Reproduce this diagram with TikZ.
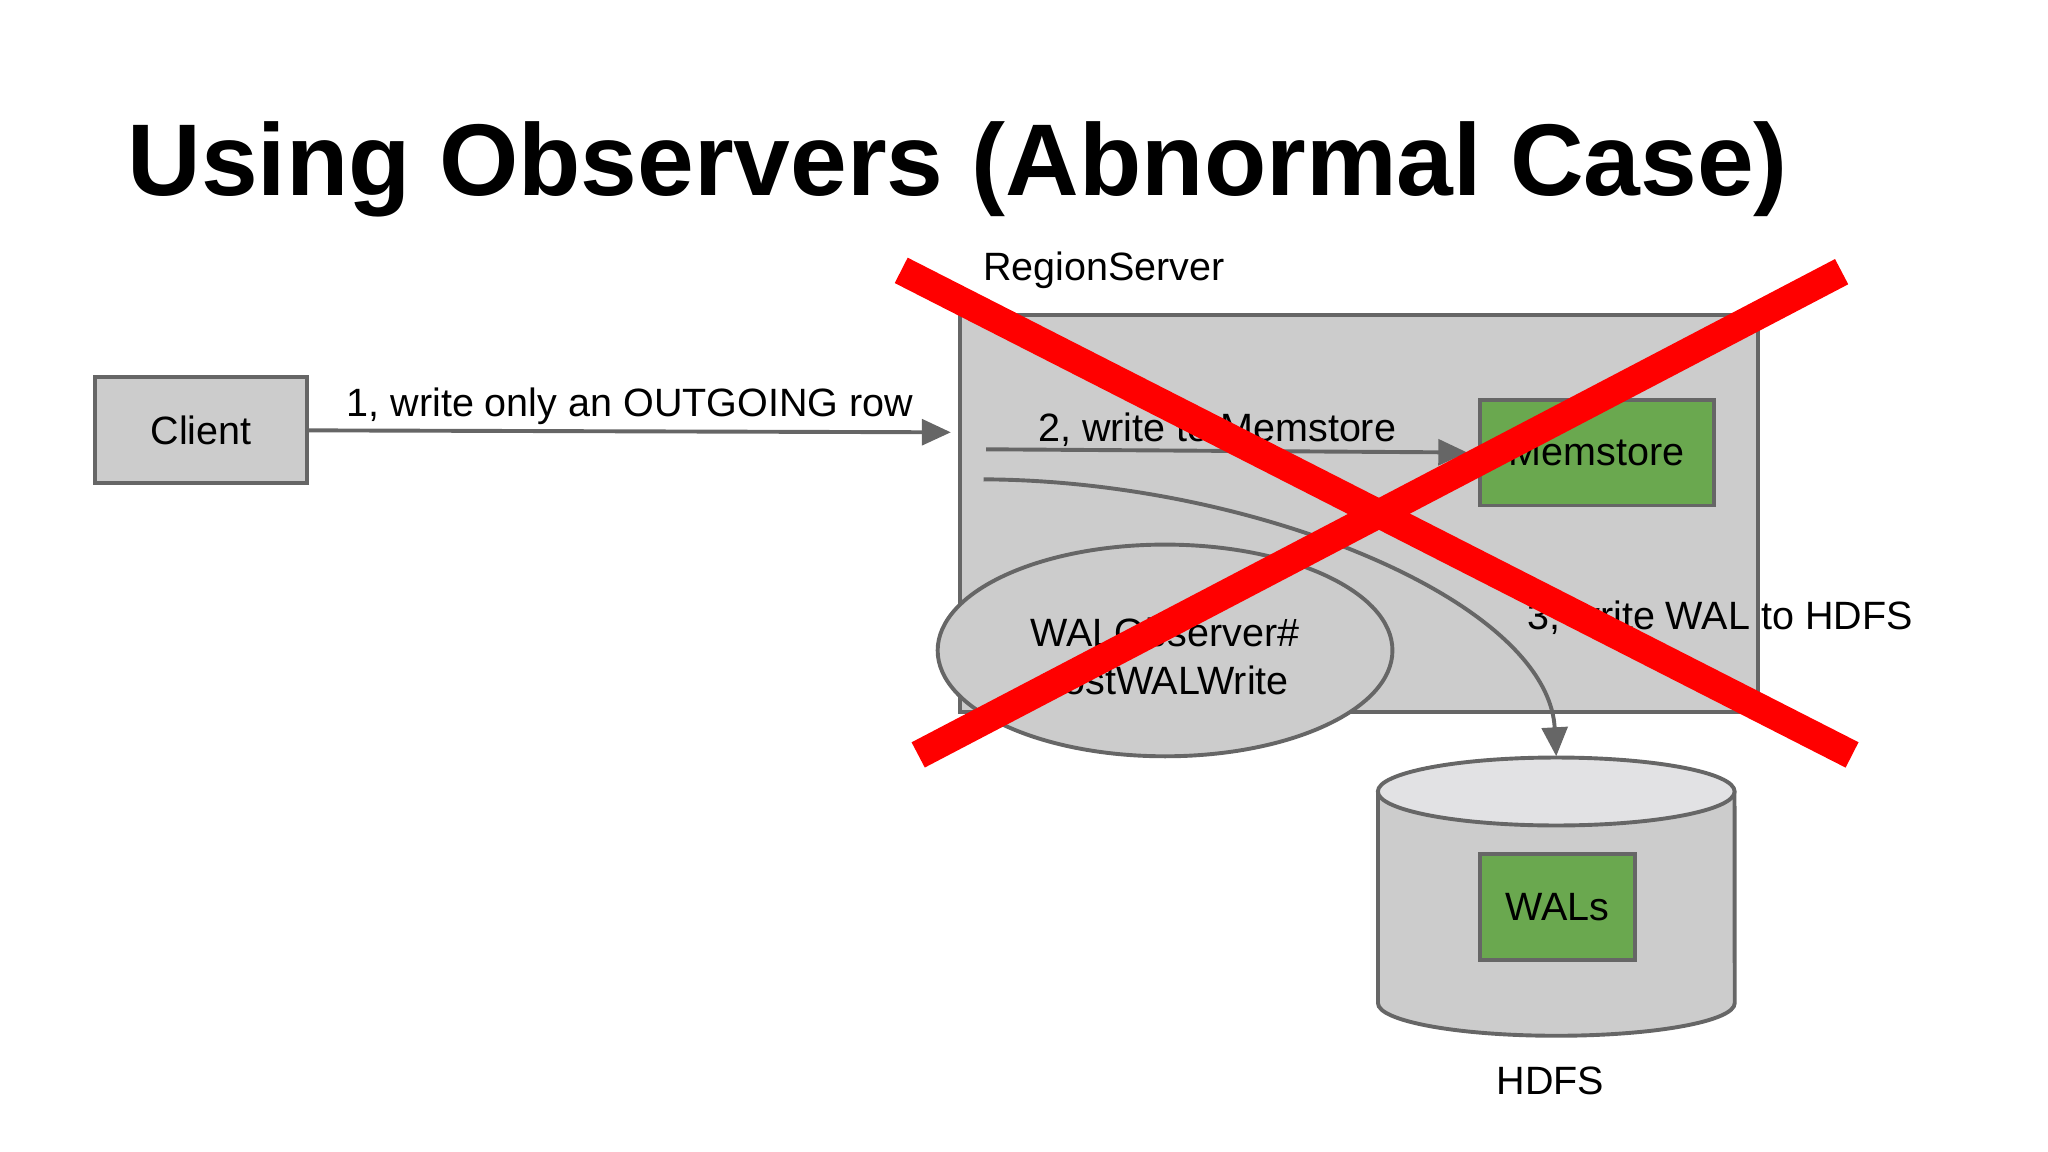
\documentclass[tikz,border=0pt]{standalone}
\usepackage{fontspec}
\setmainfont{Liberation Sans}
\usetikzlibrary{arrows.meta,positioning,shapes.geometric,calc}
\definecolor{boxgray}{HTML}{CCCCCC}
\definecolor{linegray}{HTML}{666666}
\definecolor{memgreen}{HTML}{6AA84F}
\definecolor{cyltop}{HTML}{E2E2E4}
\definecolor{crossred}{HTML}{FF0000}

\begin{document}
\begin{tikzpicture}[x=0.01cm, y=-0.01cm, >={Triangle[length=6.3pt,width=5.6pt]},
  font=\fontsize{8.6}{10.3}\selectfont,
  box/.style={draw=linegray, line width=0.85pt, fill=boxgray},
  store/.style={box, fill=memgreen},
  flow/.style={->, draw=linegray, line width=0.85pt},
  cross/.style={draw=crossred, line width=6.2pt}]
  \useasboundingbox (0,0) rectangle (1568,882);
  \node[anchor=base west, inner sep=0pt, font=\fontsize{22.2}{27}\selectfont\bfseries] (title) at (97,150) {Using Observers (Abnormal Case)};

  \node[box, minimum width=1.62cm, minimum height=0.81cm] (client) at (154,329.5) {Client};
  \node[box, minimum width=6.11cm, minimum height=3.04cm] (rs) at (1040.5,393) {};
  \node[anchor=base west, inner sep=0pt] (rslabel) at (752,215) {RegionServer};
  \node[store, minimum width=1.79cm, minimum height=0.81cm] (mem) at (1222.5,346.5) {Memstore};
  \node[ellipse, box, minimum width=3.48cm, minimum height=1.62cm, align=center] (walobs) at (892,498) {\rule{0pt}{10.5pt}WALObserver\#\\postWALWrite};

  % HDFS cylinder
  \filldraw[box] (1055,606) -- (1055,768) arc[start angle=180, end angle=360, x radius=1.365cm, y radius=0.25cm] -- (1328,606);
  \filldraw[draw=linegray, line width=0.85pt, fill=cyltop] (1191.5,606) ellipse [x radius=1.365cm, y radius=0.26cm];
  \coordinate (hdfstop) at (1191.5,579);
  \node[store, minimum width=1.19cm, minimum height=0.81cm] (wals) at (1192.5,694.5) {WALs};
  \node[anchor=base] (hdfs) at (1187,838) {HDFS};

  \coordinate (rsin) at (728,331);
  \coordinate (memin) at (755,344);
  \coordinate (walin) at (753,367);
  \draw[flow] (client.east) -- node[above, inner sep=1pt] {1, write only an OUTGOING row} (rsin);
  \draw[flow, shorten >=2.3pt] (memin) -- node[above, inner sep=0.5pt, pos=0.47] {2, write to Memstore} (mem.west);
  \draw[flow] (walin) .. controls (960,368) and (1185,460) .. (hdfstop);
  \node[anchor=base] (walout) at (1317,482) {3, write WAL to HDFS};

  \draw[cross] (690,207) -- (1418,578);
  \draw[cross] (1410,208) -- (703,578);
\end{tikzpicture}
\end{document}
